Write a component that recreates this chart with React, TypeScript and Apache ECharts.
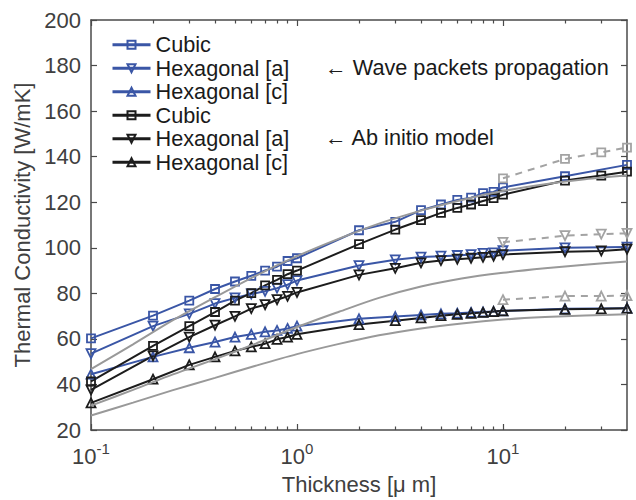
import React, { useEffect, useRef } from "react";
import * as echarts from "echarts";

// ---------- data ----------
const xWave = [0.1, 0.2, 0.3, 0.4, 0.5, 0.6, 0.7, 0.8, 0.9, 1, 2, 3, 4, 5, 6, 7, 8, 9, 10, 20, 40];
const xAbInitio = [0.1, 0.2, 0.3, 0.4, 0.5, 0.6, 0.7, 0.8, 0.9, 1, 2, 3, 4, 5, 6, 7, 8, 9, 10, 20, 30, 40];
const xExtra = [10, 20, 30, 40];
const xModel = [0.1, 0.16, 0.25, 0.4, 0.63, 1, 1.6, 2.5, 4, 6.3, 10, 16, 25, 40];

const waveCubic = [60.2, 70.2, 76.8, 81.9, 85.2, 87.7, 90.0, 91.7, 94.2, 95.4, 107.7, 111.4, 116.5, 119, 121, 122, 124, 124.5, 126.5, 131.4, 136.4];
const waveHexA = [53.5, 65.6, 71.0, 75.5, 78.0, 79.7, 80.9, 82.3, 83.8, 85.6, 92.2, 94.7, 95.9, 96.3, 96.6, 97, 97.5, 97.8, 98.7, 100, 100.3];
const waveHexC = [44.5, 52.1, 56.1, 58.6, 60.8, 62.0, 63.1, 63.7, 64.6, 65.6, 68.8, 69.8, 70.5, 71, 71.3, 71.6, 71.8, 72, 72.3, 73.2, 73.5];

const abCubic = [41.3, 56.9, 65.6, 71.8, 76.8, 80.1, 83.5, 85.9, 88.4, 90.0, 101.6, 108, 112.1, 115.3, 117.5, 119, 120.5, 121.8, 123.3, 129.5, 131.7, 133.4];
const abHexA = [37.6, 52.5, 60.8, 66.0, 69.9, 73.3, 75.0, 77.2, 78.7, 80.4, 88.1, 91, 93.4, 94.4, 95, 95.4, 95.8, 96.3, 97, 98.3, 98.6, 99.4];
const abHexC = [31.9, 42.3, 48.6, 52.1, 54.7, 56.5, 57.9, 59.8, 60.8, 62.0, 66.3, 68, 69.2, 70.2, 70.8, 71.2, 71.6, 72, 72.3, 73, 73.2, 73.4];

const extraCubic = [130.5, 139, 141.9, 144];
const extraHexA = [102.4, 105.3, 106, 106.3];
const extraHexC = [77.2, 78.8, 78.8, 79];

const modelCubic = [46.7, 57.6, 68.2, 78.3, 87.7, 96.3, 104, 110.6, 116.3, 121, 124.9, 127.9, 130.1, 131.7];
const modelHexA = [30.7, 37.6, 44.4, 51.1, 57.9, 65.2, 71.9, 78.0, 83.0, 86.5, 89, 91, 92.6, 94];
const modelHexC = [26.4, 32, 37.5, 42.9, 48.2, 53.3, 57.8, 61.6, 64.6, 66.8, 68.5, 69.6, 70.3, 70.8];

const majorTicksX = [0.1, 1, 10];
const minorTicksX = [0.2, 0.3, 0.4, 0.5, 0.6, 0.7, 0.8, 0.9, 2, 3, 4, 5, 6, 7, 8, 9, 20, 30];

const legendNames = ["Cubic", "Hexagonal [a]", "Hexagonal [c]", "Cubic ", "Hexagonal [a] ", "Hexagonal [c] "];
const annotations = ["\u2190 Wave packets propagation", "\u2190 Ab initio model"];

// ---------- styles ----------
const FONT = "'Liberation Sans', Arial, Helvetica, sans-serif";
const BLUE = "#3a56a6";
const BLACK = "#1c1c1c";
const GRAY = "#999999";
const GRAY2 = "#a3a3a3";
const AXIS = "#4a4a4a";
const LABEL = "#404040";

const zip = (xs: number[], ys: number[]) => xs.map((x, i) => [x, ys[i]]);

function markerSeries(name: string, xs: number[], ys: number[], color: string, shape: "sq" | "up" | "down", dashed = false) {
  return {
    name,
    type: "line",
    xAxisIndex: 0,
    yAxisIndex: 0,
    data: zip(xs, ys),
    symbol: shape === "sq" ? "rect" : "triangle",
    symbolSize: shape === "sq" ? 8 : 9,
    symbolRotate: shape === "down" ? 180 : 0,
    showAllSymbol: true,
    lineStyle: { color, width: 2, type: dashed ? [7, 6] : "solid" },
    itemStyle: { color: "rgba(255,255,255,0)", borderColor: color, borderWidth: 1.8 },
    emphasis: { disabled: true },
    silent: true,
    z: 3,
  };
}

function modelSeries(name: string, ys: number[]) {
  return {
    name,
    type: "line",
    data: zip(xModel, ys),
    smooth: 0.3,
    symbol: "none",
    lineStyle: { color: GRAY, width: 2 },
    emphasis: { disabled: true },
    silent: true,
    z: 4,
  };
}

export default function App() {
  const ref = useRef<HTMLDivElement>(null);

  useEffect(() => {
    document.body.style.margin = "0";
    if (!ref.current) return;
    const chart = echarts.init(ref.current, undefined, { renderer: "svg" });

    const logAxisBase = {
      type: "log",
      logBase: 10,
      min: 0.1,
      max: 40,
      gridIndex: 0,
      splitLine: { show: false },
      minorTick: { show: false },
      minorSplitLine: { show: false },
    };

    const option: any = {
      animation: false,
      backgroundColor: "#ffffff",
      grid: { left: 91, right: 9, top: 20, bottom: 67, containLabel: false },
      legend: {
        orient: "vertical",
        left: 111,
        top: 33,
        padding: 0,
        itemWidth: 38,
        itemHeight: 10,
        itemGap: 0,
        selectedMode: false,
        data: legendNames,
        formatter: (n: string) => n.trim(),
        textStyle: { fontSize: 21.7, lineHeight: 23.5, color: "#1a1a1a", fontFamily: FONT },
        lineStyle: { width: 3 },
      },
      graphic: annotations.map((t, i) => ({
        type: "text",
        left: 325,
        top: i === 0 ? 56 : 126,
        style: { text: t, fontSize: 21.7, fontFamily: FONT, fill: "#1a1a1a" },
        silent: true,
      })),
      xAxis: [
        {
          ...logAxisBase,
          position: "bottom",
          name: "Thickness [\u03bc m]",
          nameLocation: "middle",
          nameGap: 43,
          nameTextStyle: { fontSize: 22, color: LABEL, fontFamily: FONT },
          axisLine: { show: true, lineStyle: { color: AXIS, width: 1.5 } },
          axisTick: { show: true, inside: true, length: 6, customValues: majorTicksX, lineStyle: { color: AXIS, width: 1.2 } },
          axisLabel: {
            show: true,
            margin: 11,
            customValues: majorTicksX,
            formatter: (v: number) => `{b|10}{s|${Math.round(Math.log10(v))}}`,
            rich: {
              b: { fontSize: 22, lineHeight: 30, color: LABEL, fontFamily: FONT },
              s: { fontSize: 15, lineHeight: 15, verticalAlign: "top", color: LABEL, fontFamily: FONT },
            },
          },
        },
        {
          ...logAxisBase,
          position: "bottom",
          axisLine: { show: false },
          axisTick: { show: true, inside: true, length: 3.5, customValues: minorTicksX, lineStyle: { color: AXIS, width: 1.2 } },
          axisLabel: { show: false },
        },
        {
          ...logAxisBase,
          position: "top",
          axisLine: { show: true, lineStyle: { color: AXIS, width: 1.5 } },
          axisTick: { show: true, inside: true, length: 6, customValues: majorTicksX, lineStyle: { color: AXIS, width: 1.2 } },
          axisLabel: { show: false },
        },
        {
          ...logAxisBase,
          position: "top",
          axisLine: { show: false },
          axisTick: { show: true, inside: true, length: 3.5, customValues: minorTicksX, lineStyle: { color: AXIS, width: 1.2 } },
          axisLabel: { show: false },
        },
      ],
      yAxis: [
        {
          type: "value",
          min: 20,
          max: 200,
          interval: 20,
          position: "left",
          name: "Thermal Conductivity [W/mK]",
          nameLocation: "middle",
          nameGap: 57,
          nameTextStyle: { fontSize: 22, color: LABEL, fontFamily: FONT },
          splitLine: { show: false },
          axisLine: { show: true, lineStyle: { color: AXIS, width: 1.5 } },
          axisTick: { show: true, inside: true, length: 6, lineStyle: { color: AXIS, width: 1.2 } },
          axisLabel: { margin: 10, fontSize: 22, color: LABEL, fontFamily: FONT },
        },
        {
          type: "value",
          min: 20,
          max: 200,
          interval: 20,
          position: "right",
          splitLine: { show: false },
          axisLine: { show: true, lineStyle: { color: AXIS, width: 1.5 } },
          axisTick: { show: true, inside: true, length: 6, lineStyle: { color: AXIS, width: 1.2 } },
          axisLabel: { show: false },
        },
      ],
      series: [
        markerSeries(legendNames[0], xWave, waveCubic, BLUE, "sq"),
        markerSeries(legendNames[1], xWave, waveHexA, BLUE, "down"),
        markerSeries(legendNames[2], xWave, waveHexC, BLUE, "up"),
        markerSeries(legendNames[3], xAbInitio, abCubic, BLACK, "sq"),
        markerSeries(legendNames[4], xAbInitio, abHexA, BLACK, "down"),
        markerSeries(legendNames[5], xAbInitio, abHexC, BLACK, "up"),
        markerSeries("extra cubic", xExtra, extraCubic, GRAY2, "sq", true),
        markerSeries("extra hex a", xExtra, extraHexA, GRAY2, "down", true),
        markerSeries("extra hex c", xExtra, extraHexC, GRAY2, "up", true),
        modelSeries("model cubic", modelCubic),
        modelSeries("model hex a", modelHexA),
        modelSeries("model hex c", modelHexC),
      ],
    };

    chart.setOption(option);
    return () => chart.dispose();
  }, []);

  return <div ref={ref} style={{ width: 636, height: 500 }} />;
}
